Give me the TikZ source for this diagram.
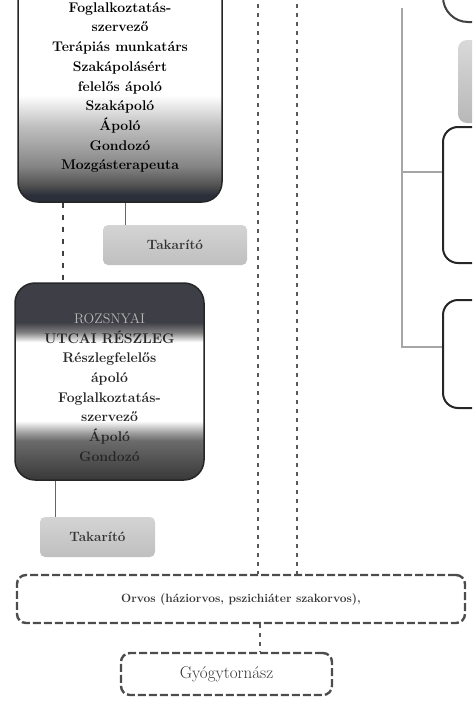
\documentclass[tikz,border=0pt]{standalone}
\usepackage{tikz}

\definecolor{wardnavy}{HTML}{2B2F3A}
\definecolor{unitdark}{HTML}{3E3E46}

\pgfdeclareverticalshading{wardfade}{100bp}{color(0bp)=(wardnavy); color(25bp)=(wardnavy); color(26.5bp)=(wardnavy); color(28.7bp)=(black!68); color(32.8bp)=(black!48); color(37.2bp)=(black!36); color(41.5bp)=(black!25); color(45bp)=(black!12); color(48.3bp)=(white); color(100bp)=(white)}
\pgfdeclareverticalshading{unitfade}{100bp}{color(0bp)=(black!78); color(25bp)=(black!78); color(35bp)=(black!58); color(37bp)=(black!38); color(40bp)=(white); color(60bp)=(white); color(62.5bp)=(black!50); color(65bp)=(unitdark); color(100bp)=(unitdark)}

\tikzset{
  unitbox/.style={draw=black!85, line width=1.5pt, rounded corners=20pt, shade},
  unittext/.style={align=center, font=\fontsize{14}{19.7}\selectfont\bfseries, text=black!85},
  cleanerbox/.style={top color=black!17, bottom color=black!25, rounded corners=5pt, minimum height=40pt, font=\fontsize{13.5}{15}\selectfont\bfseries, text=black!80},
  cleanerlink/.style={draw=black!60, line width=1pt},
  unitlink/.style={draw=black!75, line width=1.3pt, dash pattern=on 5pt off 7pt},
  sepline/.style={draw=black!65, line width=1.2pt, dash pattern=on 4pt off 5pt},
  staffbox/.style={draw=black!70, line width=2.4pt, dash pattern=on 8pt off 3pt, rounded corners=9pt, align=center},
  deptbox/.style={draw=black!85, line width=2pt, rounded corners=15pt, minimum width=100pt},
  treeline/.style={draw=black!35, line width=1.3pt}
}

\begin{document}
\begin{tikzpicture}[x=1pt,y=-1pt]
\useasboundingbox (0,0) rectangle (472,704);
\clip (0,0) rectangle (472,704);

% left column
\node[unitbox, shading=wardfade, minimum width=204pt, minimum height=230pt] (ward) at (120,87) {};
\node[unittext, text=black] (wardtext) at (120,87.5) {Foglalkoztatás-\\szervező\\Terápiás munkatárs\\Szakápolásért\\felelős ápoló\\Szakápoló\\Ápoló\\Gondozó\\Mozgásterapeuta};
\node[cleanerbox, minimum width=144pt] (takA) at (175,245) {Takarító};

\node[unitbox, shading=unitfade, minimum width=189pt, minimum height=197pt] (rozsnyai) at (109.5,381.5) {};
\node[unittext] (rozsnyaitext) at (109.5,387.5) {{\mdseries\color{white!72!black}ROZSNYAI}\\UTCAI RÉSZLEG\\Részlegfelelős\\ápoló\\Foglalkoztatás-\\szervező\\Ápoló\\Gondozó};
\node[cleanerbox, minimum width=115pt] (takB) at (97.5,537) {Takarító};

\coordinate (c1) at (63,0);
\coordinate (c2) at (125,0);
\coordinate (c3) at (55,0);
\draw[unitlink] (ward.south -| c1) -- (rozsnyai.north -| c1);
\draw[cleanerlink] (ward.south -| c2) -- (takA.north -| c2);
\draw[cleanerlink] (rozsnyai.south -| c3) -- (takB.north -| c3);

% bottom staff
\node[staffbox, minimum width=448pt, minimum height=48pt, font=\fontsize{12}{14}\selectfont\bfseries, text=black!80] (orvos) at (241,599) {Orvos (háziorvos, pszichiáter szakorvos),};
\node[staffbox, minimum width=211pt, minimum height=42pt, font=\fontsize{17}{19}\selectfont, text=black!80] (gyogy) at (226.5,674) {Gyógytornász};

\coordinate (s1) at (258,4);
\coordinate (s2) at (297,4);
\coordinate (c4) at (260,0);
\draw[sepline] (s1) -- (orvos.north -| s1);
\draw[sepline] (s2) -- (orvos.north -| s2);
\draw[sepline] (orvos.south -| c4) -- (gyogy.north -| c4);

% right column
\node[draw=black!75, line width=2pt, rounded corners=25pt, minimum width=100pt, minimum height=100pt] (topunit) at (493,-28) {};
\node[top color=black!15, bottom color=black!28, rounded corners=9pt, minimum width=84pt, minimum height=83pt] (sidegray) at (500,81.5) {};
\node[deptbox, minimum height=136pt] (deptA) at (493,195) {};
\node[deptbox, minimum height=108pt] (deptB) at (493,354) {};

\coordinate (t0) at (402,8);
\coordinate (tA) at (402,172);
\coordinate (tB) at (402,347);
\draw[treeline] (t0) -- (tB) -- (tB -| deptB.west);
\draw[treeline] (tA) -- (tA -| deptA.west);
\end{tikzpicture}
\end{document}
